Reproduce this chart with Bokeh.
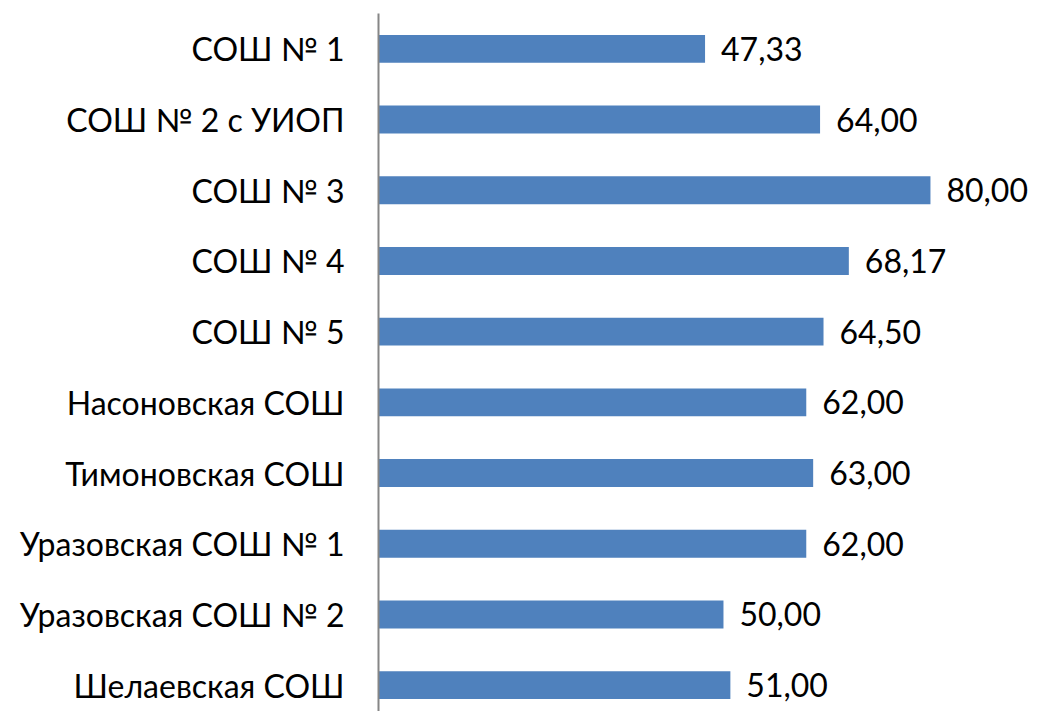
from bokeh.plotting import figure
from bokeh.models import Range1d, FixedTicker, ColumnDataSource
from bokeh.core.properties import value
from bokeh.embed import file_html
from bokeh.resources import INLINE

schools = ["СОШ № 1", "СОШ № 2 с УИОП", "СОШ № 3", "СОШ № 4", "СОШ № 5",
           "Насоновская СОШ", "Тимоновская СОШ", "Уразовская СОШ № 1",
           "Уразовская СОШ № 2", "Шелаевская СОШ"]
scores = [47.33, 64.00, 80.00, 68.17, 64.50, 62.00, 63.00, 62.00, 50.00, 51.00]

ypos = list(range(len(schools)))
labels = [f"{v:.2f}".replace(".", ",") for v in scores]
src = ColumnDataSource(dict(y=ypos, v=scores, lab=labels))

FONT = "Lato"
p = figure(width=1030, height=711, output_backend="svg", toolbar_location=None,
           x_range=Range1d(0, 94.5), y_range=Range1d(9.373, -0.5),
           min_border_left=378, min_border_right=0, min_border_top=13,
           min_border_bottom=0)
p.outline_line_color = None
p.xgrid.visible = False
p.ygrid.visible = False
p.xaxis.visible = False

p.hbar(y="y", right="v", left=0, height=0.395, source=src,
       fill_color="#4F81BD", line_color=None)
p.text(x="v", y="y", text="lab", source=src, x_offset=16,
       text_baseline="middle", text_align="left",
       text_font=value(FONT), text_font_size="32px", text_color="#000000")

ya = p.yaxis[0]
ya.ticker = FixedTicker(ticks=ypos)
ya.major_label_overrides = {i: s for i, s in zip(ypos, schools)}
ya.major_tick_out = 0
ya.major_tick_in = 0
ya.minor_tick_out = 0
ya.minor_tick_in = 0
ya.major_label_standoff = 34
ya.axis_line_color = "#868686"
ya.axis_line_width = 2
ya.major_label_text_font = FONT
ya.major_label_text_font_size = "32px"
ya.major_label_text_color = "#000000"

open("out.html", "w").write(file_html(p, INLINE))
